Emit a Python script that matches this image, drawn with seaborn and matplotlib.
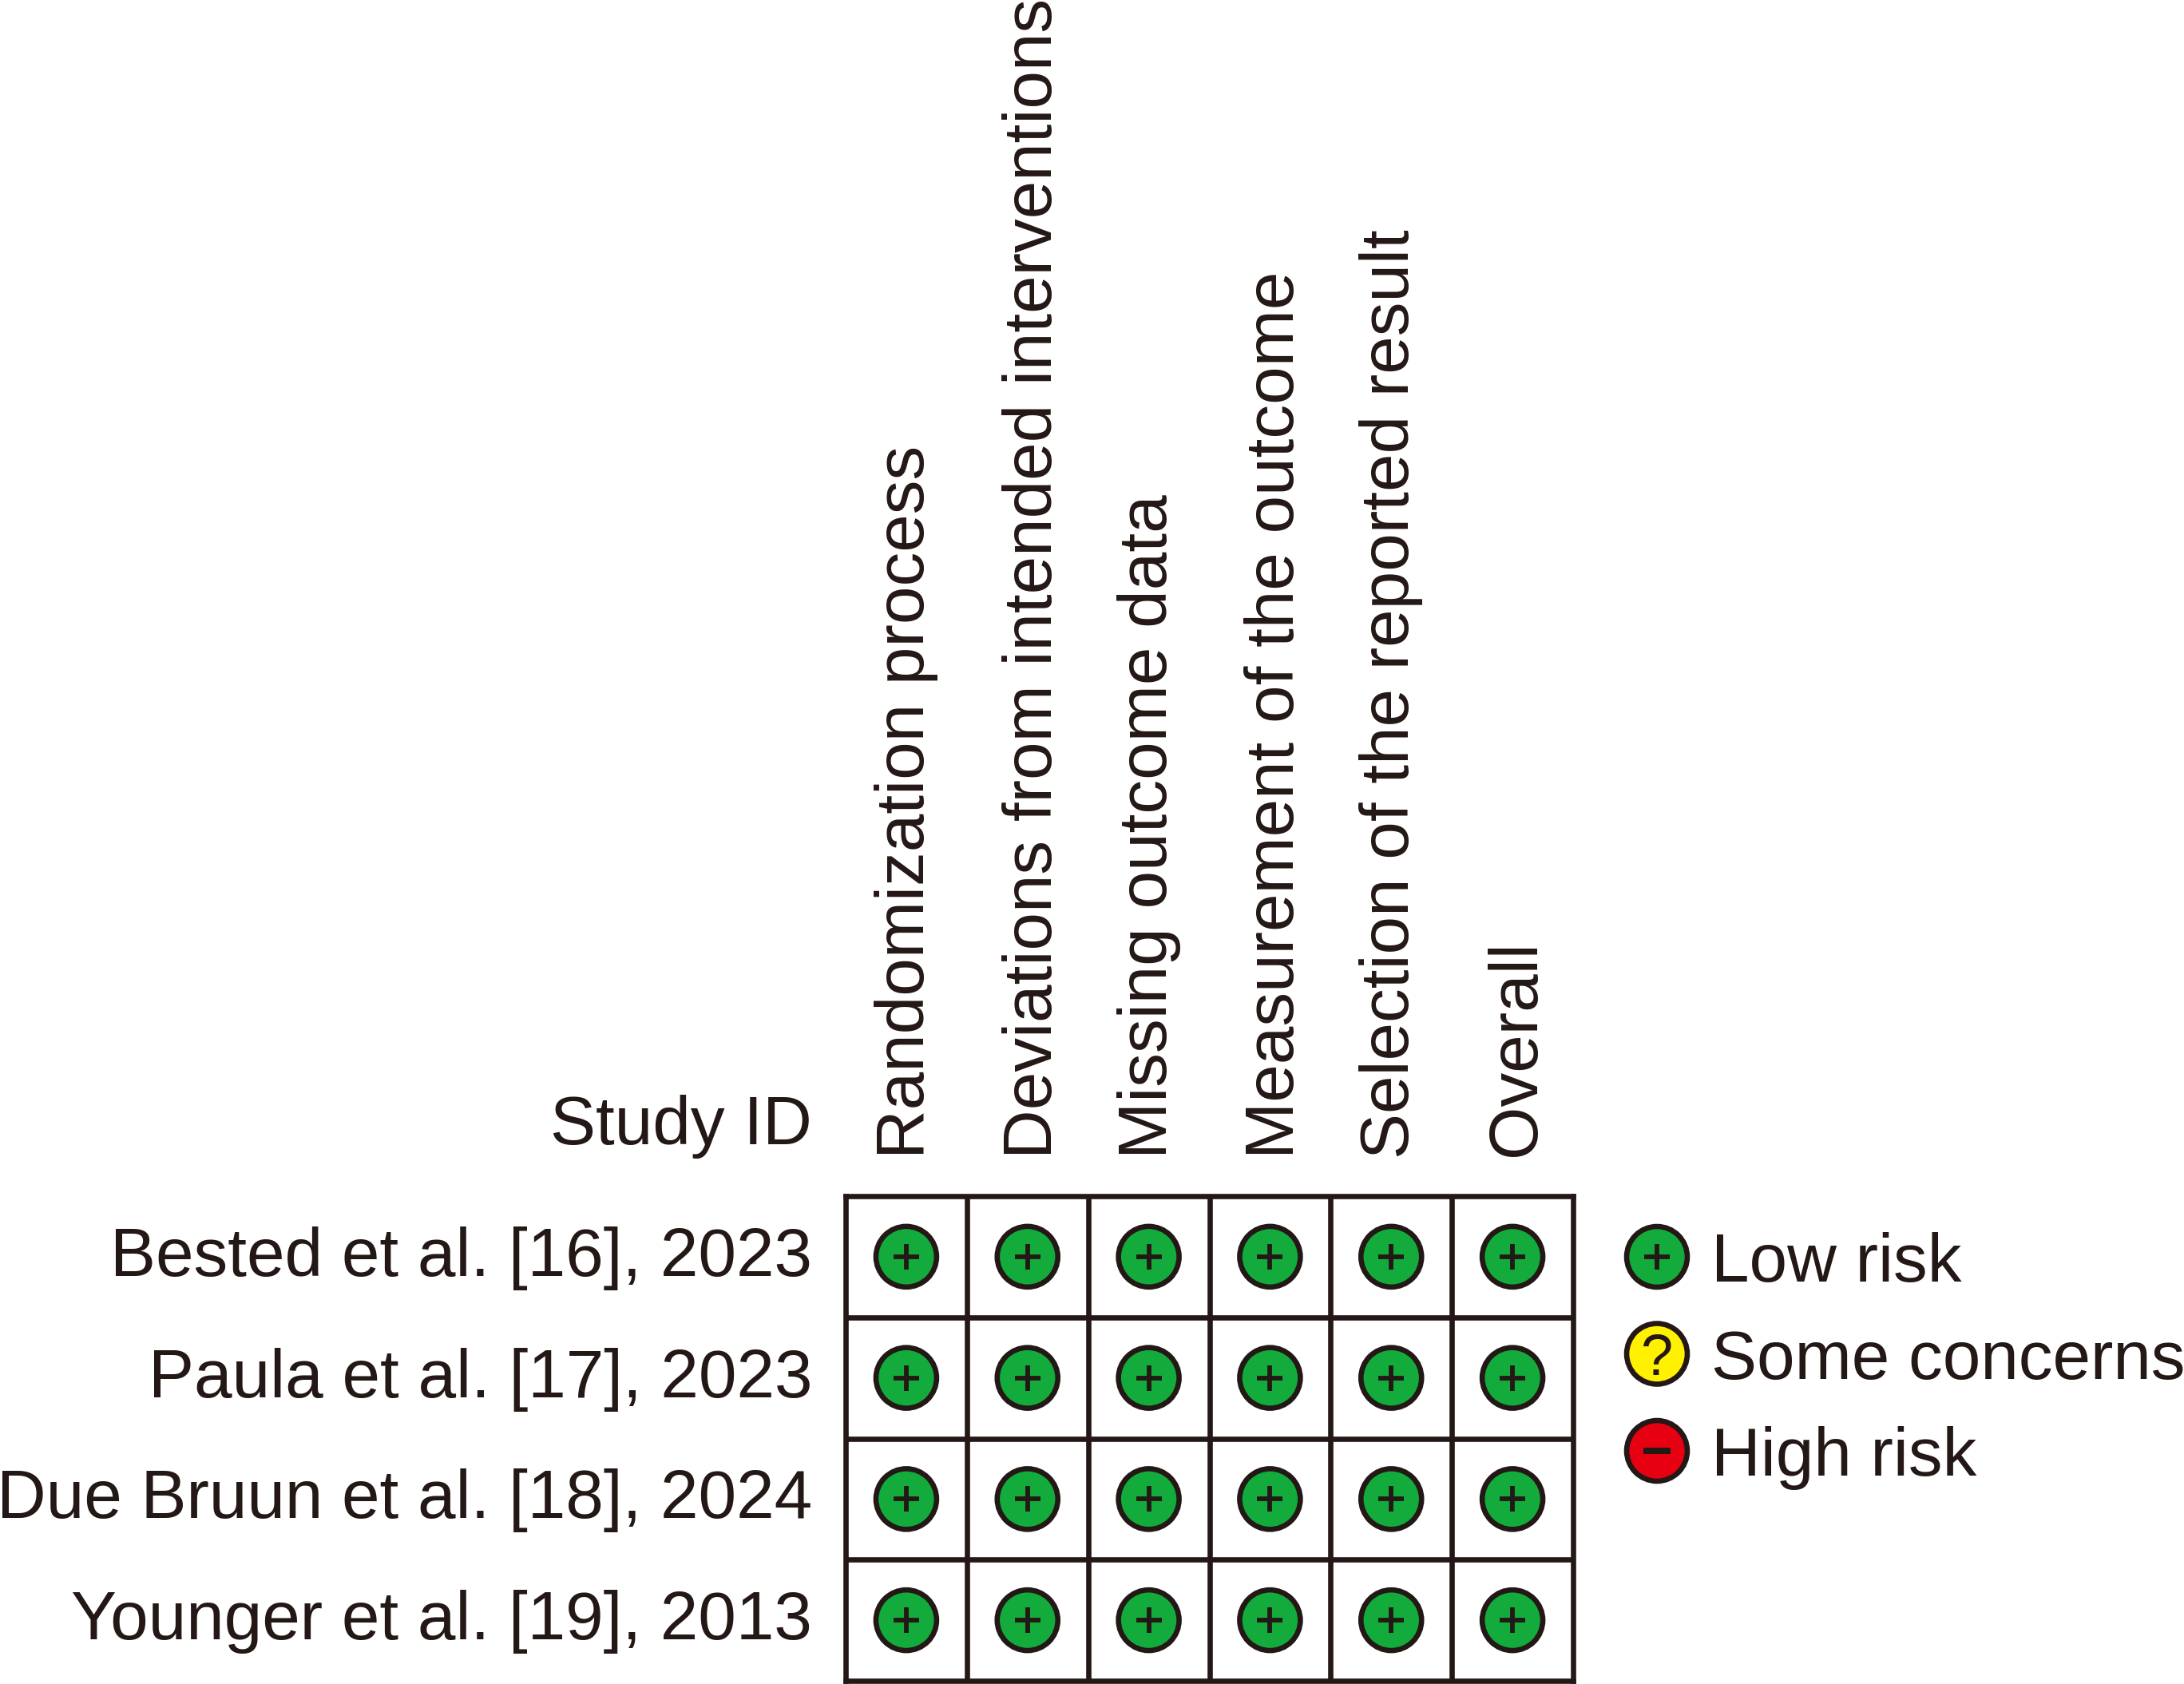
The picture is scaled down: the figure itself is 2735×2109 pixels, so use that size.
import matplotlib
matplotlib.use("Agg")
import matplotlib.pyplot as plt
from matplotlib.transforms import ScaledTranslation
import pandas as pd
import seaborn as sns

sns.set_theme(style="white")
plt.rcParams['font.family'] = ['Liberation Sans', 'DejaVu Sans']

studies = ["Bested et al. [16], 2023", "Paula et al. [17], 2023",
           "Due Bruun et al. [18], 2024", "Younger et al. [19], 2013"]
domains = ["Randomization process", "Deviations from intended interventions",
           "Missing outcome data", "Measurement of the outcome",
           "Selection of the reported result", "Overall"]
randomization = ["Low risk", "Low risk", "Low risk", "Low risk"]
deviations = ["Low risk", "Low risk", "Low risk", "Low risk"]
missing = ["Low risk", "Low risk", "Low risk", "Low risk"]
measurement = ["Low risk", "Low risk", "Low risk", "Low risk"]
selection = ["Low risk", "Low risk", "Low risk", "Low risk"]
overall = ["Low risk", "Low risk", "Low risk", "Low risk"]
legend_levels = ["Low risk", "Some concerns", "High risk"]

W, H = 2735, 2109
INK = "#231815"
palette = {"Low risk": "#12AB3C", "Some concerns": "#FFF100", "High risk": "#E60012"}
FS = 61.6
px = 0.72
LINE = 6.6 * px

rows = []
for dom, col in zip(domains, [randomization, deviations, missing, measurement, selection, overall]):
    for st, val in zip(studies, col):
        rows.append({"study": st, "domain": dom, "risk": val})
df = pd.DataFrame(rows)
df["x"] = df["domain"].map({d: i for i, d in enumerate(domains)})
df["y"] = df["study"].map({s: i for i, s in enumerate(studies)})
leg = pd.DataFrame({"risk": legend_levels, "x": 0, "y": range(len(legend_levels))})


def dots(ax, data):
    sns.scatterplot(data=data, x="x", y="y", hue="risk", palette=palette, s=2990,
                    edgecolor=INK, linewidth=LINE, legend=False, ax=ax, clip_on=False, zorder=3)
    sub = data[data["risk"] == "Low risk"]
    if len(sub):
        sns.scatterplot(data=sub, x="x", y="y", marker="+", color=INK, s=530,
                        linewidth=5.8 * px, legend=False, ax=ax, clip_on=False, zorder=4)
    sub = data[data["risk"] == "High risk"]
    if len(sub):
        sns.scatterplot(data=sub, x="x", y="y", marker="_", color=INK, s=630,
                        linewidth=8 * px, legend=False, ax=ax, clip_on=False, zorder=4)
    for _, r in data[data["risk"] == "Some concerns"].iterrows():
        ax.text(r["x"], r["y"], "?", ha="center", va="center_baseline", fontsize=52,
                color=INK, zorder=4)


def nudge(label, dx_px, dy_px):
    label.set_transform(label.get_transform() +
                        ScaledTranslation(dx_px / 100, dy_px / 100, fig.dpi_scale_trans))


fig = plt.figure(figsize=(W / 100, H / 100), dpi=100, facecolor="white")

# Traffic-light grid
L, R, T, B = 1059, 1970, 1498, 2105
ax = fig.add_axes([L / W, 1 - B / H, (R - L) / W, (B - T) / H])
dots(ax, df)
ax.set_xlim(-0.5, len(domains) - 0.5)
ax.set_ylim(len(studies) - 0.5, -0.5)
ax.set_xticks(range(len(domains)), domains, rotation=90, fontsize=FS, color=INK)
ax.set_yticks(range(len(studies)), studies, fontsize=FS, color=INK)
ax.xaxis.tick_top()
ax.tick_params(axis="x", length=0, pad=34)
ax.tick_params(axis="y", length=0, pad=30)
ax.set_xticks([i + 0.5 for i in range(len(domains) - 1)], minor=True)
ax.set_yticks([i + 0.5 for i in range(len(studies) - 1)], minor=True)
ax.tick_params(which="minor", length=0)
ax.grid(which="minor", color=INK, linewidth=LINE)
ax.grid(which="major", visible=False)
ax.set_axisbelow(True)
for s in ax.spines.values():
    s.set_color(INK)
    s.set_linewidth(LINE)
ax.set_xlabel("")
ax.set_ylabel("")
ax.text(-42 / (R - L), 1 + 47 / (B - T), "Study ID", transform=ax.transAxes, ha="right",
        va="bottom", fontsize=FS, color=INK)
for lab, dx, dy in zip(ax.get_xticklabels(), [0, 8, 0, 8, 0, 6], [0, 0, 0, 0, 0, 3]):
    nudge(lab, dx, dy)
for lab in ax.get_yticklabels():
    nudge(lab, 0, 7)

# Legend
lx, ly0, ly1 = 2075, 1574, 1817
step = (ly1 - ly0) / 2
axl = fig.add_axes([(lx - 50) / W, 1 - (ly1 + step / 2) / H, 100 / W, (step * 3) / H])
dots(axl, leg)
axl.set_xlim(-0.5, 0.5)
axl.set_ylim(2.5, -0.5)
axl.set_xticks([])
axl.set_yticks(range(3), legend_levels, fontsize=FS, color=INK)
axl.yaxis.tick_right()
axl.tick_params(axis="y", length=0, pad=13)
axl.set_xlabel("")
axl.set_ylabel("")
axl.patch.set_alpha(0)
for s in axl.spines.values():
    s.set_visible(False)

fig.savefig("out.png", dpi=100, facecolor="white")
